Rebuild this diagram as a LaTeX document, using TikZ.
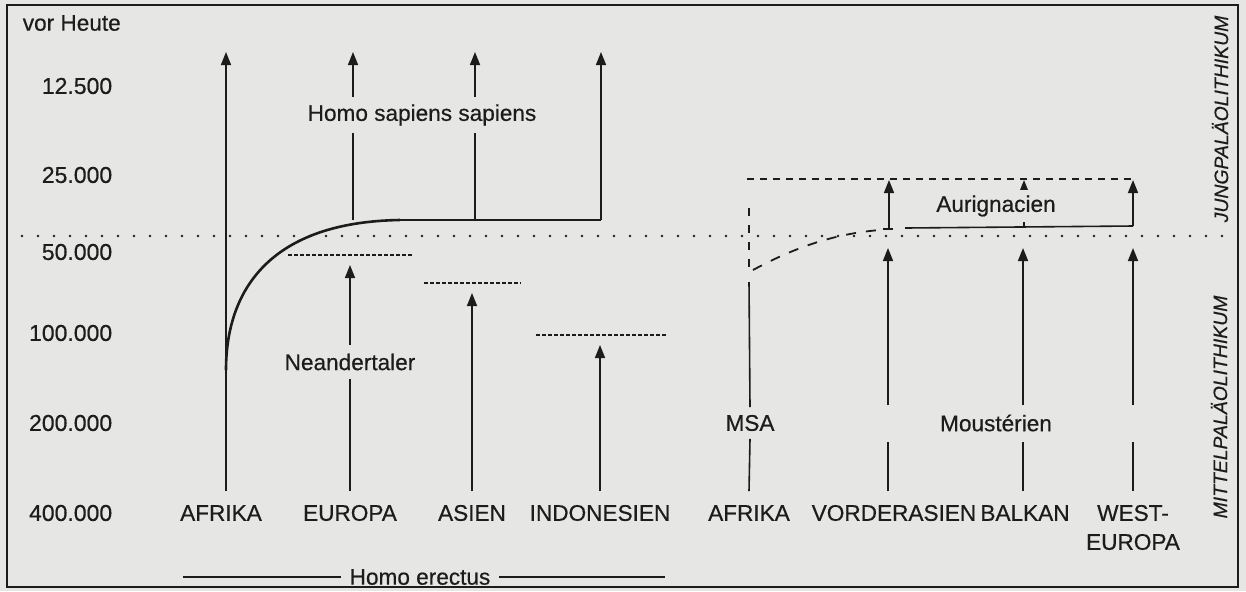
\documentclass[tikz,border=0pt]{standalone}
\usepackage{fontspec}
\setmainfont{Liberation Sans}[FakeBold=0.5]
\usetikzlibrary{arrows.meta}
\definecolor{paper}{HTML}{E6E6E4}
\definecolor{ink}{HTML}{1C1C1C}

\begin{document}
\begin{tikzpicture}[x=0.5pt, y=-0.5pt, ink, line width=0.8pt,
  lbl/.style={text=ink, font=\fontsize{11.3}{14.5}\selectfont, inner sep=2pt},
  cover/.style={lbl, fill=paper, inner sep=3.5pt},
  up/.style={-{Triangle[width=5pt,length=6.5pt]}},
  fdash/.style={dash pattern=on 2pt off 1pt},
  mdash/.style={dash pattern=on 3.5pt off 3pt},
  ldash/.style={dash pattern=on 4pt off 4.5pt, line width=0.9pt},
  cdash/.style={dash pattern=on 5pt off 5pt, line width=0.9pt},
  dotline/.style={line width=1.4pt, line cap=round, dash pattern=on 0pt off 8pt},
  rot/.style={rotate=90, text=ink, font=\fontsize{9.7}{11}\selectfont\itshape}]
  \def\yB{491}  % lower end of the lines
  \def\yTop{52} % arrow tips at the top
  \useasboundingbox (0,0) rectangle (1246,591);
  \fill[paper] (0,0) rectangle (1246,591);
  \draw (7,5) rectangle (1238,587);
  % time axis
  \node[lbl, anchor=west] (vor) at (18,23) {vor Heute};
  \foreach \v/\y/\n in {12.500/86/a, 25.000/175/b, 50.000/252/c, 100.000/333/d, 200.000/423/e, 400.000/513/f}
    \node[lbl, anchor=east, font=\fontsize{11.5}{14}\selectfont] (ax\n) at (117,\y) {\v};
  % Homo sapiens sapiens
  \foreach \x/\y in {226/\yB, 353/220, 475/220, 601/220}
    \draw[up] (\x,\y) -- (\x,\yTop);
  \draw[line width=1.3pt] (226,370) .. controls (226,290) and (270,222) .. (400,220);
  \draw (398,220) -- (601,220);
  \node[cover] (hss) at (422,115) {Homo sapiens sapiens};
  % Neandertaler
  \node[lbl, inner sep=4pt] (nean) at (350,362) {Neandertaler};
  \draw (350,\yB) -- (nean.south);
  \draw[up] (nean.north) -- (350,265);
  \draw[up] (472,\yB) -- (472,293);
  \draw[up] (600,\yB) -- (600,345);
  \draw[fdash] (288,255) -- (413,255);
  \draw[fdash] (424,283) -- (521,283);
  \draw[fdash] (536,335) -- (667,335);
  % MSA
  \node[lbl, inner sep=3.5pt] (msa) at (750,423) {MSA};
  \draw (749,\yB) -- (msa.south);
  \draw (msa.north) -- (749,282);
  \draw[ldash] (749,208) -- (749,272);
  \draw[cdash] (753,270) .. controls (790,250) and (830,234) .. (880,230);
  % Moustérien
  \node[lbl] (mous) at (996,423) {Moustérien};
  \foreach \x in {888,1023,1133} {
    \draw (\x,\yB) -- (\x,442);
    \draw[up] (\x,405) -- (\x,248);
  }
  % Aurignacien
  \draw (883,229) -- (893,229);
  \draw (905,228) -- (1133,226);
  \draw[mdash] (747,179) -- (1137,179);
  \foreach \x/\y in {889/229, 1024/226.5, 1133/226}
    \draw[up] (\x,\y) -- (\x,180);
  \node[cover, inner sep=2.5pt] (aur) at (996,206) {Aurignacien};
  % border between the periods
  \draw[dotline] (22,236) -- (1226,236);
  \node[rot] (jung) at (1220,119) {JUNGPALÄOLITHIKUM};
  \node[rot] (mittel) at (1219,407) {MITTELPALÄOLITHIKUM};
  % regions
  \foreach \x/\t/\n in {221/AFRIKA/afa, 350/EUROPA/eur, 472/ASIEN/asi, 600/INDONESIEN/ind, 749/AFRIKA/afb, 894/VORDERASIEN/vas, 1025/BALKAN/bal}
    \node[lbl] (\n) at (\x,513) {\t};
  \node[lbl, align=center] (weu) at (1133,527.5) {WEST-\\EUROPA};
  % Homo erectus
  \node[lbl, inner sep=4pt] (erectus) at (420,577) {Homo erectus};
  \draw (183,577) -- (erectus.west);
  \draw (erectus.east) -- (665,577);
\end{tikzpicture}
\end{document}
